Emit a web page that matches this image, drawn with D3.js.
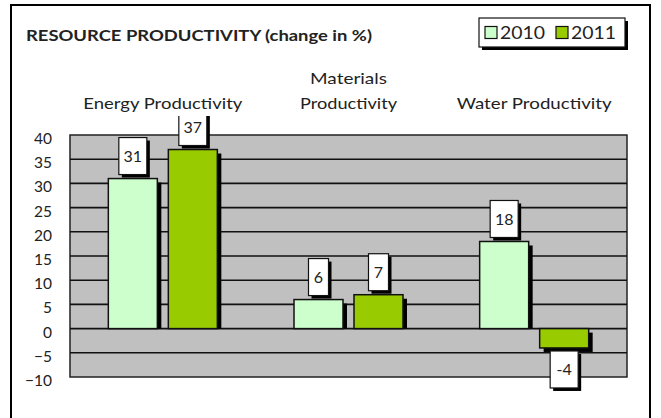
<!DOCTYPE html>
<html>
<head>
<meta charset="utf-8">
<script src="https://cdn.jsdelivr.net/npm/d3@7"></script>
<style>
  body { margin: 0; background: #fff; }
  text { font-family: Lato, "Open Sans", sans-serif; fill: #222; }
</style>
</head>
<body>
<svg id="chart" width="661" height="418"></svg>
<script>
const categories = [["Energy Productivity"], ["Materials", "Productivity"], ["Water Productivity"]];
const categoryWidths = [[159], [77, 97], [155]];
const series = ["2010", "2011"];
const values2010 = [31, 6, 18];
const values2011 = [37, 7, -4];
const yTicks = [40, 35, 30, 25, 20, 15, 10, 5, 0, -5, -10];
const colors = { "2010": "#ccffcc", "2011": "#99cc00" };

const svg = d3.select("#chart");

// outer frame
svg.append("rect")
  .attr("x", 11).attr("y", 5)
  .attr("width", 639).attr("height", 430)
  .attr("fill", "#fff").attr("stroke", "#000").attr("stroke-width", 2);

// title
svg.append("text")
  .attr("x", 26).attr("y", 41)
  .style("font-weight", "bold").style("font-size", "15.5px")
  .attr("textLength", 346).attr("lengthAdjust", "spacingAndGlyphs")
  .text("RESOURCE PRODUCTIVITY (change in %)");

const plot = { left: 70, right: 627, top: 135, bottom: 377 };

const y = d3.scaleLinear().domain([-10, 40]).range([plot.bottom, plot.top]);
const x0 = d3.scaleBand()
  .domain(categories.map((d) => d.join(" ")))
  .range([plot.left, plot.right]);
const groupWidth = 109;
const x1 = d3.scaleBand().domain(series).range([0, groupWidth]).paddingInner(11 / 60);

// plot background
svg.append("rect")
  .attr("x", plot.left).attr("y", plot.top)
  .attr("width", plot.right - plot.left).attr("height", plot.bottom - plot.top)
  .attr("fill", "#c0c0c0").attr("stroke", "#222").attr("stroke-width", 1.5);

// gridlines
svg.append("g")
  .selectAll("line")
  .data(yTicks.filter((t) => t !== 40 && t !== -10))
  .join("line")
  .attr("x1", plot.left).attr("x2", plot.right)
  .attr("y1", (d) => y(d)).attr("y2", (d) => y(d))
  .attr("stroke", "#111").attr("stroke-width", 1.6);

// y axis labels
const yAxis = svg.append("g")
  .attr("transform", `translate(${plot.left - 18},0)`)
  .call(d3.axisLeft(y).tickValues(yTicks).tickSize(0).tickPadding(0));
yAxis.select(".domain").remove();
yAxis.selectAll("text")
  .attr("dy", "0.55em")
  .style("font-size", "15.5px")
  .style("font-family", "Lato, sans-serif")
  .attr("fill", "#222");

// category labels
const catG = svg.append("g");
categories.forEach((lines, ci) => {
  const cx = x0(lines.join(" ")) + x0.bandwidth() / 2;
  lines.forEach((line, i) => {
    catG.append("text")
      .attr("x", cx)
      .attr("y", 109 - (lines.length - 1 - i) * 25)
      .attr("text-anchor", "middle")
      .style("font-size", "16px")
      .attr("textLength", categoryWidths[ci][i])
      .attr("lengthAdjust", "spacingAndGlyphs")
      .text(line);
  });
});

// bars
const barData = [];
categories.forEach((c, i) => {
  barData.push({ cat: c.join(" "), s: "2010", v: values2010[i] });
  barData.push({ cat: c.join(" "), s: "2011", v: values2011[i] });
});
const offset = (x0.bandwidth() - groupWidth) / 2;
const bx = (d) => x0(d.cat) + offset + x1(d.s);

const bars = svg.append("g");
// shadows
bars.selectAll("rect.shadow")
  .data(barData)
  .join("rect")
  .attr("class", "shadow")
  .attr("x", (d) => bx(d) + 4)
  .attr("y", (d) => Math.min(y(d.v), y(0)) + 4)
  .attr("width", x1.bandwidth())
  .attr("height", (d) => Math.abs(y(d.v) - y(0)) - (d.v > 0 ? 4 : 0))
  .attr("fill", "#000");
bars.selectAll("rect.bar")
  .data(barData)
  .join("rect")
  .attr("class", "bar")
  .attr("x", bx)
  .attr("y", (d) => Math.min(y(d.v), y(0)))
  .attr("width", x1.bandwidth())
  .attr("height", (d) => Math.abs(y(d.v) - y(0)))
  .attr("fill", (d) => colors[d.s])
  .attr("stroke", "#111").attr("stroke-width", 1.5);

// data labels
svg.append("clipPath").attr("id", "labelClip")
  .append("rect").attr("x", 0).attr("y", 116).attr("width", 661).attr("height", 400);
const labels = svg.append("g").attr("clip-path", "url(#labelClip)");
barData.forEach((d) => {
  const cx = bx(d) + x1.bandwidth() / 2;
  const txt = String(d.v);
  const w = txt.length * 8 + 12;
  const h = 37;
  const top = d.v >= 0 ? y(d.v) - 4 - h : y(d.v) + 3;
  labels.append("rect")
    .attr("x", cx - w / 2 + 3).attr("y", top + 3)
    .attr("width", w).attr("height", h).attr("fill", "#000");
  labels.append("rect")
    .attr("x", cx - w / 2).attr("y", top)
    .attr("width", w).attr("height", h)
    .attr("fill", "#fff").attr("stroke", "#111").attr("stroke-width", 1.2);
  labels.append("text")
    .attr("x", cx).attr("y", top + h / 2 + 6)
    .attr("text-anchor", "middle")
    .style("font-size", "16px")
    .text(txt);
});

// legend
const legend = svg.append("g");
legend.append("rect").attr("x", 482).attr("y", 21).attr("width", 146).attr("height", 29).attr("fill", "#000");
legend.append("rect").attr("x", 479).attr("y", 18).attr("width", 146).attr("height", 29)
  .attr("fill", "#fff").attr("stroke", "#111").attr("stroke-width", 1.2);
const legX = d3.scaleOrdinal().domain(series).range([485, 556]);
series.forEach((s) => {
  legend.append("rect")
    .attr("x", legX(s)).attr("y", 26.5)
    .attr("width", 12).attr("height", 12)
    .attr("fill", colors[s]).attr("stroke", "#111").attr("stroke-width", 1.2);
  legend.append("text")
    .attr("x", legX(s) + 15).attr("y", 39)
    .style("font-size", "16.5px")
    .attr("textLength", 45).attr("lengthAdjust", "spacingAndGlyphs")
    .text(s);
});
</script>
</body>
</html>
